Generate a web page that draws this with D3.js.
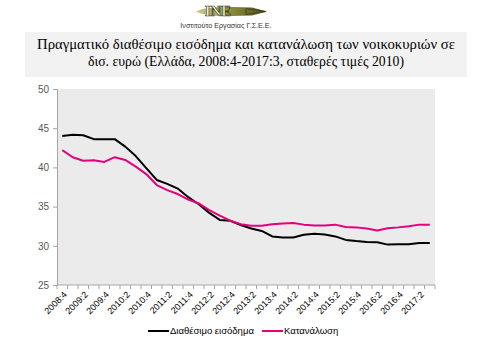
<!DOCTYPE html>
<html>
<head>
<meta charset="utf-8">
<script src="https://cdn.jsdelivr.net/npm/d3@7"></script>
<style>
  html, body { margin: 0; padding: 0; background: #fff; }
  svg { display: block; }
</style>
</head>
<body>
<svg id="chart" width="480" height="360"></svg>
<script>
// ---- data ----
const quarters = [
  "2008:4","2009:1","2009:2","2009:3","2009:4","2010:1","2010:2","2010:3","2010:4",
  "2011:1","2011:2","2011:3","2011:4","2012:1","2012:2","2012:3","2012:4",
  "2013:1","2013:2","2013:3","2013:4","2014:1","2014:2","2014:3","2014:4",
  "2015:1","2015:2","2015:3","2015:4","2016:1","2016:2","2016:3","2016:4",
  "2017:1","2017:2","2017:3"
];
const income = [
  44.0, 44.15, 44.1, 43.6, 43.6, 43.6, 42.65, 41.45, 39.9, 38.4, 37.9, 37.3,
  36.2, 35.3, 34.2, 33.3, 33.2, 32.65, 32.2, 31.9, 31.2, 31.05, 31.05, 31.4,
  31.55, 31.45, 31.2, 30.75, 30.6, 30.5, 30.45, 30.15, 30.2, 30.2, 30.35, 30.35
];
const consumption = [
  42.2, 41.3, 40.85, 40.9, 40.7, 41.3, 40.95, 40.1, 39.15, 37.75, 37.1, 36.6,
  35.9, 35.4, 34.55, 33.85, 33.2, 32.75, 32.55, 32.55, 32.75, 32.85, 32.9, 32.7,
  32.6, 32.6, 32.7, 32.4, 32.35, 32.2, 31.95, 32.25, 32.35, 32.5, 32.7, 32.7
];
const yTicks = [25, 30, 35, 40, 45, 50];
const xLabels = quarters.filter((q, i) => i % 2 === 0);
const seriesNames = ["Διαθέσιμο εισόδημα", "Κατανάλωση"];
const titleLines = [
  "Πραγματικό διαθέσιμο εισόδημα και κατανάλωση των νοικοκυριών  σε",
  "δισ. ευρώ (Ελλάδα, 2008:4-2017:3, σταθερές τιμές 2010)"
];
const logoText = "INE";
const logoSub = "Ινστιτούτο Εργασίας Γ.Σ.Ε.Ε.";

// ---- layout ----
const svg = d3.select("#chart");
const plot = { left: 57, right: 435, top: 89, bottom: 285 };
const colors = ["#000000", "#e5007d"];

// logo
const logo = svg.append("g");
const nibGrad = svg.append("defs").append("linearGradient")
  .attr("id", "olive").attr("x1", "0").attr("x2", "1");
nibGrad.append("stop").attr("offset", "0").attr("stop-color", "#c9c98a");
nibGrad.append("stop").attr("offset", "0.5").attr("stop-color", "#8a8a3a");
nibGrad.append("stop").attr("offset", "1").attr("stop-color", "#4a4a1e");
logo.append("path")
  .attr("d", "M196,11.5 Q205,6.5 232,7 L252,7.5 L267,11.5 L252,15.5 L232,16 Q205,16.5 196,11.5 Z")
  .attr("fill", "url(#olive)");
logo.append("path")
  .attr("d", "M246,8.5 L266,11.5 L246,14.5 Z")
  .attr("fill", "none").attr("stroke", "#3e3e18").attr("stroke-width", 0.8);
logo.append("text")
  .attr("x", 218).attr("y", 16)
  .attr("text-anchor", "middle")
  .attr("font-family", "Liberation Serif, serif")
  .attr("font-weight", "bold")
  .attr("font-size", 15)
  .attr("fill", "#ffffff")
  .attr("stroke", "#3e3e18").attr("stroke-width", 0.7)
  .text(logoText);
logo.append("text")
  .attr("x", 226).attr("y", 28)
  .attr("text-anchor", "middle")
  .attr("font-family", "Liberation Sans, Arial, sans-serif")
  .attr("font-size", 7.2)
  .attr("fill", "#333")
  .text(logoSub);

// title box
svg.append("rect")
  .attr("x", 25).attr("y", 32).attr("width", 442).attr("height", 45)
  .attr("fill", "#f2f2f2");
const titleWidths = [418, 316];
svg.selectAll("text.title").data(titleLines).join("text")
  .attr("class", "title")
  .attr("x", 246)
  .attr("y", (d, i) => 49 + i * 17)
  .attr("text-anchor", "middle")
  .attr("font-family", "Liberation Serif, Times New Roman, serif")
  .attr("font-size", 14)
  .attr("fill", "#000")
  .attr("textLength", (d, i) => titleWidths[i])
  .attr("lengthAdjust", "spacingAndGlyphs")
  .text(d => d);

// plot background
svg.append("rect")
  .attr("x", plot.left).attr("y", plot.top)
  .attr("width", plot.right - plot.left).attr("height", plot.bottom - plot.top)
  .attr("fill", "#ebebeb");

// scales
const x = d3.scaleBand().domain(quarters).range([plot.left, plot.right]).padding(0);
const y = d3.scaleLinear().domain([25, 50]).range([plot.bottom, plot.top]);

// y axis
const yAxis = svg.append("g")
  .attr("transform", `translate(${plot.left},0)`)
  .call(d3.axisLeft(y).tickValues(yTicks).tickSize(4).tickPadding(4));
yAxis.select(".domain").attr("stroke", "#a6a6a6");
yAxis.selectAll(".tick line").attr("stroke", "#a6a6a6");
yAxis.selectAll(".tick text")
  .attr("font-family", "Liberation Sans, Arial, sans-serif")
  .attr("font-size", 10).attr("fill", "#595959");

// x axis: ticks at band boundaries
const xAxisG = svg.append("g").attr("transform", `translate(0,${plot.bottom})`);
xAxisG.append("line")
  .attr("x1", plot.left).attr("x2", plot.right)
  .attr("stroke", "#a6a6a6");
const boundaries = quarters.map(q => x(q)).concat([plot.right]);
xAxisG.selectAll("line.tk").data(boundaries).join("line")
  .attr("class", "tk")
  .attr("x1", d => d).attr("x2", d => d)
  .attr("y1", 0).attr("y2", 4)
  .attr("stroke", "#a6a6a6");
xAxisG.selectAll("text").data(xLabels).join("text")
  .attr("transform", d => `translate(${x(d) + x.bandwidth() / 2 + 3},${8}) rotate(-45)`)
  .attr("text-anchor", "end")
  .attr("dy", "0.35em")
  .attr("font-family", "Liberation Sans, Arial, sans-serif")
  .attr("font-size", 9)
  .attr("fill", "#000")
  .text(d => d);

// lines
const line = d3.line()
  .x((d, i) => x(quarters[i]) + x.bandwidth() / 2)
  .y(d => y(d));
[income, consumption].forEach((s, k) => {
  svg.append("path")
    .datum(s)
    .attr("d", line)
    .attr("fill", "none")
    .attr("stroke", colors[k])
    .attr("stroke-width", 2)
    .attr("stroke-linejoin", "round");
});

// legend
const legendPos = [{ x: 148 }, { x: 262 }];
const leg = svg.append("g");
seriesNames.forEach((n, k) => {
  leg.append("line")
    .attr("x1", legendPos[k].x).attr("x2", legendPos[k].x + 21)
    .attr("y1", 331).attr("y2", 331)
    .attr("stroke", colors[k]).attr("stroke-width", 2);
  leg.append("text")
    .attr("x", legendPos[k].x + 22).attr("y", 331)
    .attr("dy", "0.35em")
    .attr("font-family", "Liberation Sans, Arial, sans-serif")
    .attr("font-size", 9.5)
    .attr("fill", "#000")
    .text(n);
});
</script>
</body>
</html>
